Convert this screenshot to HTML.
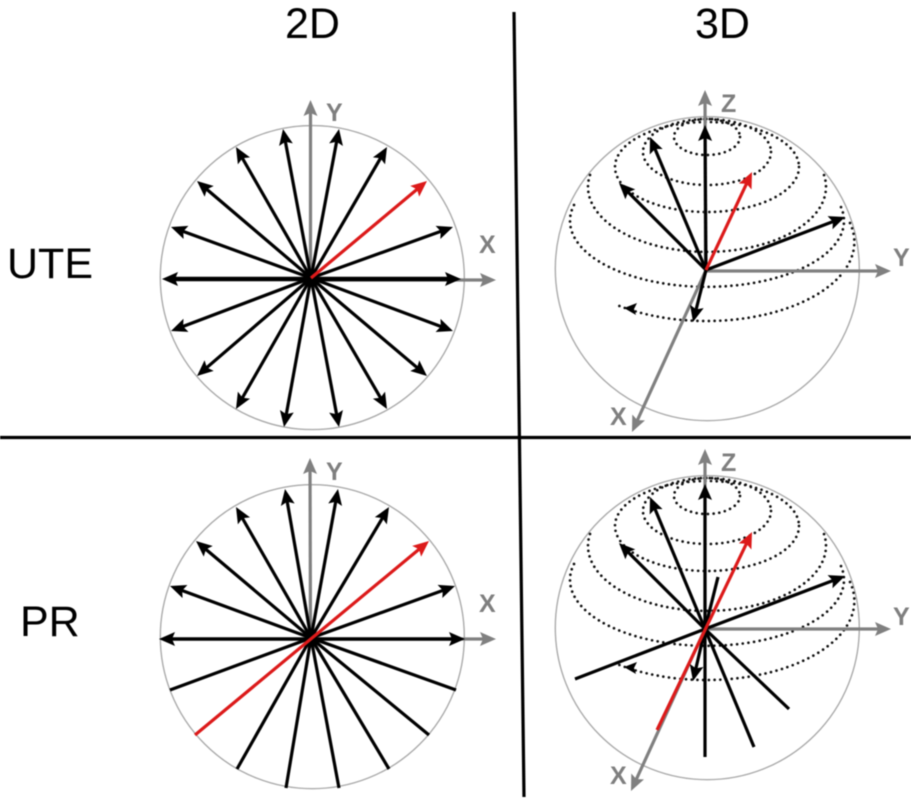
<!DOCTYPE html>
<html><head><meta charset="utf-8"><style>
html,body{margin:0;padding:0;background:#fff}
svg{display:block;width:911px;height:799px;filter:blur(0.45px)}
text{font-family:"Liberation Sans",sans-serif}
.t{font-size:43px;fill:#000}
.l{font-size:25px;font-weight:bold;fill:#7f7f7f}
.c{fill:none;stroke:#ababab;stroke-width:1.4}
.ax{fill:none;stroke:#808080;stroke-width:3.2;stroke-dasharray:96 10}
.k{fill:none;stroke:#000;stroke-width:3.2;stroke-dasharray:96 10}
.r{fill:none;stroke:#dc1a1a;stroke-width:3.2;stroke-dasharray:96 10}
.s{fill:none;stroke:#000;stroke-width:3.2}
.d{fill:none;stroke:#111;stroke-width:2.7;stroke-linecap:round;stroke-dasharray:0 5.7}
</style></head><body>
<svg viewBox="0 0 911 799" xmlns="http://www.w3.org/2000/svg">
<defs>
<marker id="mk" markerUnits="userSpaceOnUse" markerWidth="18" markerHeight="16" refX="16" refY="8" orient="auto"><path d="M0,1 L16,8 L0,15 L3,8z" fill="#000"/></marker>
<marker id="mg" markerUnits="userSpaceOnUse" markerWidth="18" markerHeight="16" refX="16" refY="8" orient="auto"><path d="M0,1 L16,8 L0,15 L3,8z" fill="#808080"/></marker>
<marker id="mr" markerUnits="userSpaceOnUse" markerWidth="18" markerHeight="16" refX="16" refY="8" orient="auto"><path d="M0,1 L16,8 L0,15 L3,8z" fill="#dc1a1a"/></marker>
<g id="rings">
<ellipse class="d" cx="707" cy="137" rx="33" ry="18"/>
<ellipse class="d" cx="707" cy="152" rx="64" ry="33"/>
<ellipse class="d" cx="707" cy="167" rx="92" ry="45"/>
<path class="d" d="M590,175 A119,65 0 1 0 824,175"/>
<path class="d" d="M574,205 A137,66 0 1 0 840,205"/>
<path class="d" d="M850,223 A148,79 0 0 1 617,305"/>
<path d="M624,308 L637,303 L634,309 L636,315z" fill="#000"/>
</g>
</defs>

<!-- dividers -->
<path class="s" d="M0,437.5 H911"/>
<path class="s" d="M514,12 L524,797"/>

<!-- headings -->
<text class="t" x="285" y="38">2D</text>
<text class="t" x="695" y="38">3D</text>
<text class="t" x="7" y="278">UTE</text>
<text class="t" x="20" y="636">PR</text>

<!-- top-left -->
<circle class="c" cx="312.3" cy="277.6" r="152"/>
<g marker-end="url(#mg)">
<path class="ax" pathLength="100" d="M310.5,278 L310.5,100"/>
<path class="ax" pathLength="100" d="M311,280 L496,280"/>
</g>
<g marker-end="url(#mk)">
<path class="k" pathLength="100" d="M311,278 L283,129"/>
<path class="k" pathLength="100" d="M311,278 L339,129"/>
<path class="k" pathLength="100" d="M311,278 L387,147"/>
<path class="k" pathLength="100" d="M311,278 L236,147"/>
<path class="k" pathLength="100" d="M311,278 L197,181"/>
<path class="k" pathLength="100" d="M311,278 L171,227"/>
<path class="k" pathLength="100" d="M311,278 L453,227"/>
<path class="k" pathLength="100" style="stroke-width:4.5" d="M311,279 L162,279"/>
<path class="k" pathLength="100" style="stroke-width:4.5" d="M311,279 L461,279"/>
<path class="k" pathLength="100" d="M311,278 L171,331"/>
<path class="k" pathLength="100" d="M311,278 L453,331"/>
<path class="k" pathLength="100" d="M311,278 L197,376"/>
<path class="k" pathLength="100" d="M311,278 L427,376"/>
<path class="k" pathLength="100" d="M311,278 L236,409"/>
<path class="k" pathLength="100" d="M311,278 L387,409"/>
<path class="k" pathLength="100" d="M311,278 L284,427"/>
<path class="k" pathLength="100" d="M311,278 L339,427"/>
</g>
<path class="r" pathLength="100" marker-end="url(#mr)" d="M311,278 L427,181"/>
<text class="l" x="326" y="121">Y</text>
<text class="l" x="479" y="253">X</text>

<!-- top-right -->
<circle class="c" cx="707.3" cy="268.7" r="152"/>
<use href="#rings"/>
<g marker-end="url(#mg)">
<path class="ax" pathLength="100" d="M705.5,270 L705,90"/>
<path class="ax" pathLength="100" d="M706,271 L891,271"/>
<path class="ax" pathLength="100" d="M706,270 L632,432"/>
</g>
<g marker-end="url(#mk)">
<path class="k" pathLength="100" d="M706,270 L705,125"/>
<path class="k" pathLength="100" d="M706,270 L650,137"/>
<path class="k" pathLength="100" d="M706,270 L619,183"/>
<path class="k" pathLength="100" d="M706,270 L845,217"/>
<path class="k" pathLength="100" style="stroke-dasharray:88 20" d="M706,270 L693,322"/>
</g>
<path class="r" pathLength="100" marker-end="url(#mr)" d="M706,270 L752,172"/>
<text class="l" x="721" y="112">Z</text>
<text class="l" x="893" y="266">Y</text>
<text class="l" x="610" y="425">X</text>

<!-- bottom-left -->
<circle class="c" cx="312.3" cy="636.7" r="152"/>
<g marker-end="url(#mg)">
<path class="ax" pathLength="100" d="M310.5,639 L310,458"/>
<path class="ax" pathLength="100" d="M311,639 L496,639"/>
</g>
<path class="s" d="M311,638 L170,690"/>
<path class="s" d="M311,638 L456,690"/>
<path class="s" d="M311,638 L429,735"/>
<path class="s" d="M311,638 L237,769"/>
<path class="s" d="M311,638 L389,769"/>
<path class="s" d="M311,638 L286,788"/>
<path class="s" d="M311,638 L339,788"/>
<g marker-end="url(#mk)">
<path class="k" pathLength="100" d="M311,638 L285,489"/>
<path class="k" pathLength="100" d="M311,638 L338,489"/>
<path class="k" pathLength="100" d="M311,638 L389,507"/>
<path class="k" pathLength="100" d="M311,638 L236,507"/>
<path class="k" pathLength="100" d="M311,638 L196,541"/>
<path class="k" pathLength="100" d="M311,638 L170,586"/>
<path class="k" pathLength="100" d="M311,638 L455,586"/>
<path class="k" pathLength="100" style="stroke-width:3.5" d="M311,639 L159,639"/>
<path class="k" pathLength="100" style="stroke-width:3.5" d="M311,639 L465,639"/>
</g>
<path class="r" pathLength="100" style="stroke-dasharray:98 10" marker-end="url(#mr)" d="M195,735 L429,541"/>
<text class="l" x="326" y="480">Y</text>
<text class="l" x="479" y="612">X</text>

<!-- bottom-right -->
<circle class="c" cx="707.3" cy="627.7" r="152"/>
<use href="#rings" y="359"/>
<g marker-end="url(#mg)">
<path class="ax" pathLength="100" d="M705,629 L705,449"/>
<path class="ax" pathLength="100" d="M705,629 L891,629"/>
<path class="ax" pathLength="100" d="M705,629 L631,791"/>
</g>
<path class="s" d="M705,629 L575,679"/>
<path class="s" d="M705,629 L754,747"/>
<path class="s" d="M705,629 L789,709"/>
<path class="s" d="M705,629 L705,757"/>
<path class="s" d="M718,577 L705,629"/>
<g marker-end="url(#mk)">
<path class="k" pathLength="100" d="M705,629 L705,484"/>
<path class="k" pathLength="100" d="M705,629 L650,497"/>
<path class="k" pathLength="100" d="M705,629 L619,543"/>
<path class="k" pathLength="100" d="M705,629 L845,576"/>
<path class="k" pathLength="100" style="stroke-dasharray:88 20" d="M705,629 L693,681"/>
</g>
<path class="r" pathLength="100" style="stroke-dasharray:98 10" marker-end="url(#mr)" d="M657,730 L752,532"/>
<text class="l" x="721" y="471">Z</text>
<text class="l" x="893" y="625">Y</text>
<text class="l" x="610" y="784">X</text>
</svg>
</body></html>
